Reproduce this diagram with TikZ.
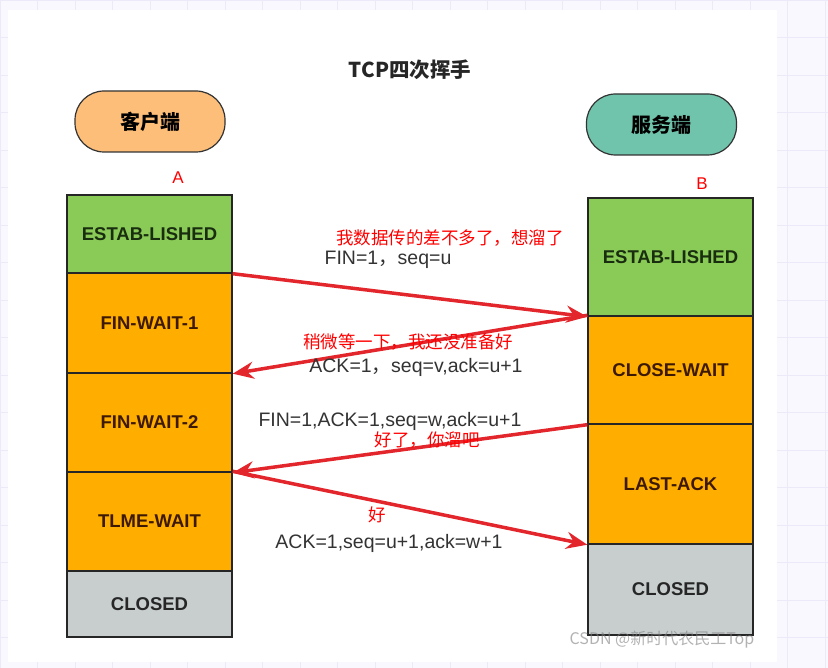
\documentclass[tikz,border=0pt]{standalone}
\usepackage{fontspec}
\setmainfont{Liberation Sans}
\newfontfamily\cjk{Noto Sans CJK SC}
\usetikzlibrary{arrows.meta, positioning}
\definecolor{estgreen}{RGB}{138,203,88}
\definecolor{waitorange}{RGB}{255,174,0}
\definecolor{closegray}{RGB}{200,206,206}
\definecolor{cliorange}{RGB}{253,190,122}
\definecolor{srvteal}{RGB}{112,196,172}
\definecolor{msgred}{RGB}{226,38,44}
\definecolor{msgtext}{RGB}{51,51,51}
\definecolor{gridline}{RGB}{236,234,248}
\definecolor{pagebg}{RGB}{249,248,254}

\begin{document}
\begin{tikzpicture}[x=1pt, y=-1pt,
  statebox/.style={rectangle, draw=black!85, line width=1.4pt, minimum width=165pt, inner sep=0pt, font=\fontsize{18.5}{20}\selectfont\bfseries},
  peer/.style={rectangle, rounded corners=29pt, draw=black!80, line width=1.2pt, minimum width=150pt, minimum height=61pt, font=\cjk\fontsize{20}{22}\selectfont\bfseries},
  msg/.style={-{Stealth[length=21pt, width=17pt, inset=7pt]}, line width=3.5pt, draw=msgred},
  seqlabel/.style={text=msgtext, font=\fontsize{19.5}{21}\selectfont, inner sep=0pt},
  notelabel/.style={text=red, font=\cjk\fontsize{17.5}{19}\selectfont, inner sep=0pt}
]
  % Hintergrund
  \useasboundingbox (0,0) rectangle (828,668);
  \fill[pagebg] (0,0) rectangle (828,668);
  \foreach \gx in {0,37.5,...,828} \draw[gridline] (\gx,0) -- (\gx,668);
  \foreach \gy in {0,37.5,...,668} \draw[gridline] (0,\gy) -- (828,\gy);
  \fill[white] (8,10) rectangle (777,662);

  % Titel und Teilnehmer
  \node[font=\cjk\fontsize{20.5}{22}\selectfont\bfseries, text=black!85] (title) at (410,70) {TCP四次挥手};
  \node[peer, fill=cliorange] (client) at (150,121.5) {客户端};
  \node[peer, fill=srvteal] (server) at (661.5,124.5) {服务端};
  \node[text=red, font=\fontsize{17}{19}\selectfont] (labA) at (178,178) {A};
  \node[text=red, font=\fontsize{17}{19}\selectfont] (labB) at (702,184) {B};

  % Zustaende Client
  \node[statebox, fill=estgreen, minimum height=78pt, text={rgb,255:red,25;green,45;blue,15}] (cEst) at (149.5,234) {ESTAB-LISHED};
  \node[statebox, fill=waitorange, minimum height=100pt, text={rgb,255:red,60;green,25;blue,0}] (cFw1) at (149.5,323) {FIN-WAIT-1};
  \node[statebox, fill=waitorange, minimum height=99pt, text={rgb,255:red,60;green,25;blue,0}] (cFw2) at (149.5,422.5) {FIN-WAIT-2};
  \node[statebox, fill=waitorange, minimum height=99pt, text={rgb,255:red,60;green,25;blue,0}] (cTw) at (149.5,521.5) {TLME-WAIT};
  \node[statebox, fill=closegray, minimum height=66pt, text=black!85] (cClosed) at (149.5,604) {CLOSED};

  % Zustaende Server
  \node[statebox, fill=estgreen, minimum height=118pt, text={rgb,255:red,25;green,45;blue,15}] (sEst) at (670.5,257) {ESTAB-LISHED};
  \node[statebox, fill=waitorange, minimum height=108pt, text={rgb,255:red,60;green,25;blue,0}] (sCw) at (670.5,370) {CLOSE-WAIT};
  \node[statebox, fill=waitorange, minimum height=120pt, text={rgb,255:red,60;green,25;blue,0}] (sLa) at (670.5,484) {LAST-ACK};
  \node[statebox, fill=closegray, minimum height=91pt, text=black!85] (sClosed) at (670.5,589.5) {CLOSED};

  % Nachrichten
  \draw[msg] (cEst.south east) -- (sEst.south west);
  \draw[msg] (sCw.north west) -- (cFw1.south east);
  \draw[msg] (sCw.south west) -- (cFw2.south east);
  \draw[msg] (cTw.north east) -- (sLa.south west);

  \node[seqlabel] (m1) at (388,260) {FIN=1{\cjk ，}seq=u};
  \node[notelabel] (n1) at (450,238) {我数据传的差不多了，想溜了};
  \node[seqlabel] (m2) at (416,367) {ACK=1{\cjk ，}seq=v,ack=u+1};
  \node[notelabel] (n2) at (408,342) {稍微等一下，我还没准备好};
  \node[seqlabel] (m3) at (390,421) {FIN=1,ACK=1,seq=w,ack=u+1};
  \node[notelabel] (n3) at (427,440) {好了，你溜吧};
  \node[notelabel] (n4) at (377,515) {好};
  \node[seqlabel] (m4) at (389,543) {ACK=1,seq=u+1,ack=w+1};

  % Wasserzeichen
  \node[text=gray, opacity=0.6, font=\cjk\fontsize{16}{18}\selectfont] (mark) at (662,640) {CSDN @新时代农民工Top};
\end{tikzpicture}
\end{document}
